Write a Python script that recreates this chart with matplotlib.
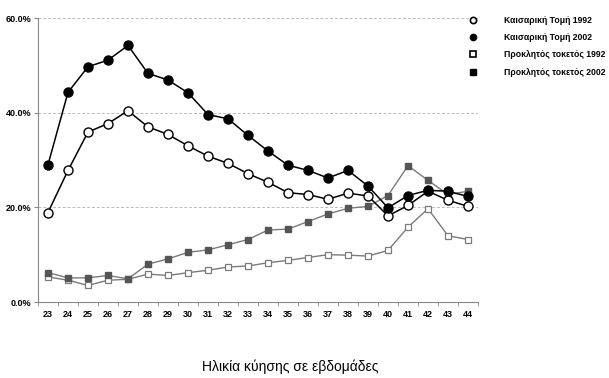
import matplotlib
matplotlib.use("Agg")
import matplotlib.pyplot as plt
from matplotlib.lines import Line2D
from matplotlib.ticker import FuncFormatter, FixedLocator

plt.rcParams['font.family'] = ['Liberation Sans', 'DejaVu Sans']

# weeks of gestation
weeks = list(range(23, 45))

# caesarean section rates (%)
ks_1992 = [18.9, 27.8, 35.9, 37.7, 40.4, 37.0, 35.4, 33.0, 30.8, 29.3, 27.1,
           25.3, 23.1, 22.7, 21.7, 23.0, 22.4, 18.2, 20.4, 23.4, 21.5, 20.2]
ks_2002 = [29.0, 44.3, 49.7, 51.1, 54.2, 48.3, 46.9, 44.2, 39.6, 38.7, 35.2,
           31.9, 28.9, 27.8, 26.2, 27.8, 24.5, 19.9, 22.5, 23.6, 23.4, 22.3]
# induced labour rates (%)
pt_1992 = [5.3, 4.6, 3.5, 4.6, 4.8, 5.9, 5.6, 6.2, 6.7, 7.4, 7.6,
           8.3, 8.8, 9.4, 10.0, 9.9, 9.7, 10.9, 15.8, 19.7, 14.0, 13.2]
pt_2002 = [6.2, 5.1, 5.1, 5.6, 4.9, 8.0, 9.1, 10.5, 11.0, 12.1, 13.2,
           15.2, 15.4, 17.0, 18.6, 19.8, 20.2, 22.5, 28.8, 25.7, 22.7, 23.4]

labels = ['Καισαρική Τομή 1992', 'Καισαρική Τομή 2002',
          'Προκλητός τοκετός 1992', 'Προκλητός τοκετός 2002']
xlabel = 'Ηλικία κύησης σε εβδομάδες'

fig = plt.figure(figsize=(6.09, 3.78), dpi=100)
ax = fig.add_axes([38/609, 1-302/378, 440/609, 284/378])

grey = '#7a7a7a'
ax.plot(weeks, pt_1992, color=grey, lw=1.0, marker='s', ms=5,
        mfc='white', mec=grey, mew=0.9, zorder=3)
ax.plot(weeks, pt_2002, color=grey, lw=1.0, marker='s', ms=5,
        mfc='#555555', mec='#555555', zorder=3)
ax.plot(weeks, ks_1992, color='black', lw=1.1, marker='o', ms=6.5,
        mfc='white', mec='black', mew=1.0, zorder=4)
ax.plot(weeks, ks_2002, color='black', lw=1.1, marker='o', ms=6.5,
        mfc='black', mec='black', zorder=4)

ax.set_xlim(22.5, 44.5)
ax.set_ylim(0, 60)
ax.set_yticks([0, 20, 40, 60])
ax.yaxis.set_major_formatter(FuncFormatter(lambda v, p: '%.1f%%' % v))
ax.set_xticks(weeks)
ax.xaxis.set_minor_locator(FixedLocator([w + 0.5 for w in range(22, 45)]))
ax.tick_params(axis='x', which='major', length=0, pad=6)
ax.tick_params(axis='x', which='minor', length=3, color='#888888')
ax.tick_params(axis='y', length=3, color='#888888', pad=2)
for lab in ax.get_xticklabels() + ax.get_yticklabels():
    lab.set_fontsize(6.5)
    lab.set_fontweight('bold')

ax.grid(axis='y', color='#bbbbbb', ls=(0, (3, 2)), lw=0.7)
ax.set_axisbelow(True)
for s in ['top', 'right']:
    ax.spines[s].set_visible(False)
for s in ['left', 'bottom']:
    ax.spines[s].set_color('#888888')
    ax.spines[s].set_linewidth(0.8)

handles = [
    Line2D([], [], ls='none', marker='o', ms=4.5, mfc='white', mec='black', mew=1.2),
    Line2D([], [], ls='none', marker='o', ms=4.5, mfc='black', mec='black'),
    Line2D([], [], ls='none', marker='s', ms=4.5, mfc='white', mec='black', mew=1.2),
    Line2D([], [], ls='none', marker='s', ms=4.5, mfc='black', mec='black'),
]
fig.legend(handles, labels, loc='upper left', bbox_to_anchor=(469/609, 1-16/378),
           frameon=False, handlelength=1.0, handletextpad=3.1, labelspacing=0.95,
           borderpad=0, borderaxespad=0, prop={'size': 6.2, 'weight': 'bold'})

fig.text(290/609, 1-367/378, xlabel, ha='center', va='center', fontsize=10)

fig.savefig('out.png', dpi=100)
